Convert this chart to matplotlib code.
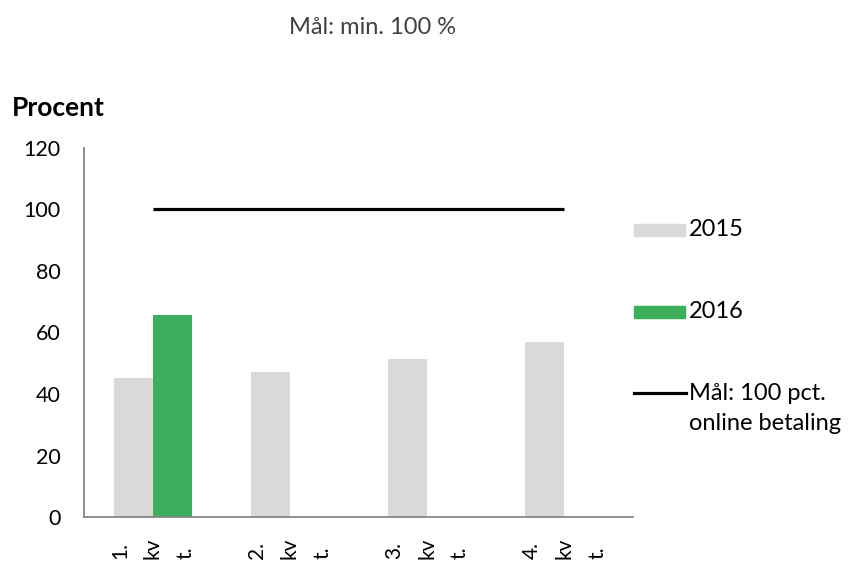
import matplotlib
matplotlib.use("Agg")
import matplotlib.pyplot as plt
from matplotlib.lines import Line2D
from matplotlib.patches import Rectangle
import numpy as np

plt.rcParams['font.family'] = ['Lato', 'DejaVu Sans']

categories = ["1.\nkv\nt.", "2.\nkv\nt.", "3.\nkv\nt.", "4.\nkv\nt."]
values_2015 = [45.3, 47.2, 51.4, 56.9]
values_2016 = [65.7, None, None, None]
goal = [100, 100, 100, 100]
yticks = [0, 20, 40, 60, 80, 100, 120]

c2015 = "#D9D9D9"
c2016 = "#3DAE5B"

fig = plt.figure(figsize=(8.5, 5.64), dpi=100)
ax = fig.add_axes([84/850, 1-517/564, (633-84)/850, (517-148)/564])

x = np.arange(len(categories))
w = 0.285
ax.bar(x - w/2, values_2015, width=w, color=c2015, zorder=2)
v16 = [v if v is not None else 0 for v in values_2016]
ax.bar(x + w/2, v16, width=w, color=c2016, zorder=2)
ax.plot(x, goal, color="black", lw=2.3, zorder=3, solid_capstyle='butt')

ax.set_xlim(-0.5, len(categories) - 0.5)
ax.set_ylim(0, 120)
ax.set_yticks(yticks)
ax.set_yticklabels([str(t) for t in yticks], fontsize=15.5)
ax.set_xticks(x)
ax.set_xticklabels(categories, rotation=90, fontsize=15, linespacing=1.8,
                   multialignment='left')
ax.tick_params(axis='y', length=0, pad=17)
ax.tick_params(axis='x', length=0, pad=15)
for s in ['top', 'right']:
    ax.spines[s].set_visible(False)
for s in ['left', 'bottom']:
    ax.spines[s].set_color('#868686')
    ax.spines[s].set_linewidth(1.3)

# Title and y label
fig.text(373/850, 1-28/564, "Mål: min. 100 %", ha='center', va='center',
         fontsize=17, color='#404040')
fig.text(12/850, 1-108/564, "Procent", ha='left', va='center',
         fontsize=19, fontweight='bold')

# Legend (manual)
def fx(px):
    return px/850
def fy(py):
    return 1-py/564

fig.patches.append(Rectangle((fx(634), fy(236)), (685-634)/850, 12/564,
                             transform=fig.transFigure, color=c2015))
fig.text(fx(689), fy(230), "2015", ha='left', va='center', fontsize=17)
fig.patches.append(Rectangle((fx(634), fy(318)), (685-634)/850, 12/564,
                             transform=fig.transFigure, color=c2016))
fig.text(fx(689), fy(312), "2016", ha='left', va='center', fontsize=17)
fig.lines.append(Line2D([fx(634), fx(686)], [fy(393), fy(393)],
                        transform=fig.transFigure, color='black', lw=2.3))
fig.text(fx(689), fy(393), "Mål: 100 pct.", ha='left', va='center', fontsize=17)
fig.text(fx(689), fy(424), "online betaling", ha='left', va='center', fontsize=17)

fig.savefig("out.png", dpi=100)
